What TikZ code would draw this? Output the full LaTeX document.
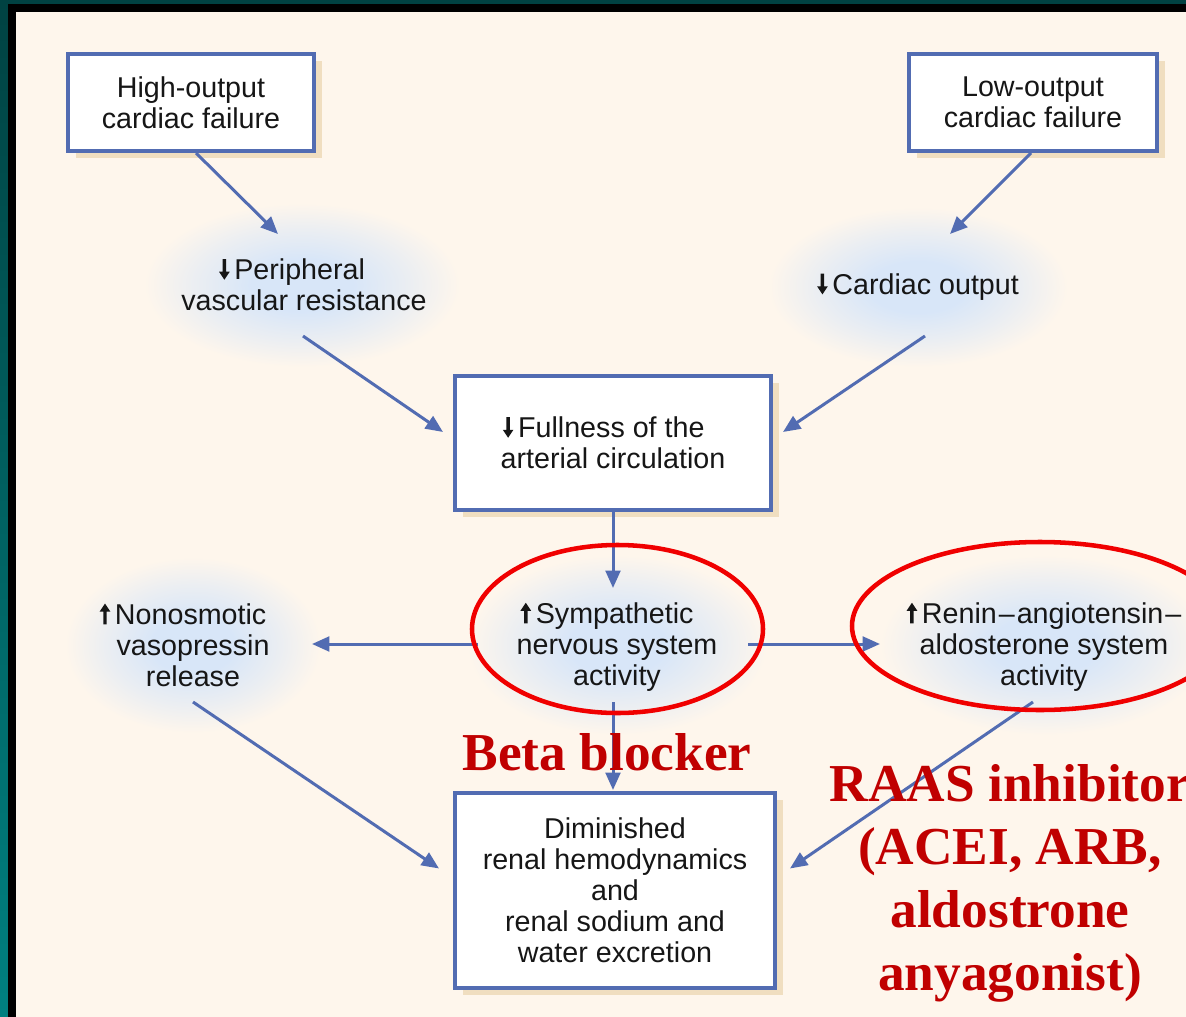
\documentclass[tikz,border=0pt]{standalone}
\usepackage{fontspec}
\setmainfont{Liberation Sans}
\newfontfamily\redfont{Liberation Serif}
\usetikzlibrary{arrows.meta,calc,shadows}

\definecolor{bgc}{RGB}{254,246,236}
\definecolor{tealdark}{RGB}{0,66,66}
\definecolor{teallight}{RGB}{0,128,128}
\definecolor{boxblue}{RGB}{82,108,178}
\definecolor{shadowc}{RGB}{240,222,192}
\definecolor{glowc}{RGB}{216,230,248}
\colorlet{glowmid}{glowc!50!bgc}
\definecolor{ringred}{RGB}{240,0,0}
\definecolor{textred}{RGB}{192,0,0}
\definecolor{ink}{RGB}{22,22,22}

\pgfdeclareradialshading{glowshade}{\pgfpoint{0bp}{0bp}}{color(0bp)=(glowc); color(8bp)=(glowc); color(17bp)=(glowmid); color(25bp)=(bgc); color(50bp)=(bgc)}

\newcommand\fs{\fontsize{21.5}{23.25}\selectfont}
\newcommand\dnar{\tikz[x=1pt,y=1pt,baseline=0pt]\fill[ink] (-1.3,15.5) -- (1.3,15.5) -- (1.3,6) -- (4,6) -- (0,0) -- (-4,6) -- (-1.3,6) -- cycle;\hspace{3.5pt}}
\newcommand\upar{\tikz[x=1pt,y=1pt,baseline=0pt]\fill[ink] (-1.3,0) -- (1.3,0) -- (1.3,9.5) -- (4,9.5) -- (0,15.5) -- (-4,9.5) -- (-1.3,9.5) -- cycle;\hspace{3.5pt}}

\tikzset{
  fbox/.style={draw=boxblue, line width=3pt, fill=white, inner sep=0pt, align=center,
    font=\fs, text=ink,
    drop shadow={shadow xshift=6pt, shadow yshift=-5.25pt, fill=shadowc, opacity=1}},
  gtext/.style={inner sep=0pt, align=center, font=\fs, text=ink},
  arr/.style={draw=boxblue, line width=2.25pt, -{Triangle[length=13pt, width=11pt]}},
  ring/.style={draw=ringred, line width=3.4pt},
  redtxt/.style={inner sep=0pt, align=center, text=textred, font=\redfont\bfseries\fontsize{40}{47.25}\selectfont},
  glow/.style={shading=glowshade}
}

\begin{document}
\begin{tikzpicture}[x=0.75pt,y=-0.75pt]
\useasboundingbox (0,0) rectangle (1186,1017);
% frame and background
\fill[bgc] (0,0) rectangle (1186,1017);
\fill[tealdark] (0,0) rectangle (1186,4);
\shade[top color=tealdark, bottom color=teallight] (0,0) rectangle (8,1017);
\fill[black] (8,4) rectangle (1186,12);
\fill[black] (8,4) rectangle (16,1017);

% glows
\shade[glow] (302,285) ellipse (158 and 82);
\shade[glow] (918,287) ellipse (150 and 80);
\shade[glow] (193,645) ellipse (128 and 88);
\shade[glow] (617,645) ellipse (150 and 90);
\shade[glow] (1045,645) ellipse (165 and 90);

% boxes
\node[fbox, minimum width=184.5pt, minimum height=72.75pt] (hi) at (191,102.5) {High-output\\cardiac failure};
\node[fbox, minimum width=186pt, minimum height=72.75pt] (lo) at (1033,102.5) {Low-output\\cardiac failure};
\node[fbox, minimum width=237pt, minimum height=100.5pt] (full) at (613,443) {\dnar Fullness of the\hspace*{14pt}\\arterial circulation};
\node[fbox, minimum width=240pt, minimum height=146.25pt] (dim) at (615,890.5) {Diminished\\renal hemodynamics\\and\\renal sodium and\\water excretion};

% glow texts
\node[gtext] (pvr) at (304,285) {\dnar Peripheral\hspace*{18pt}\\vascular resistance};
\node[gtext] (co) at (918,287) {\dnar Cardiac output};
\node[gtext] (nono) at (193,645) {\upar Nonosmotic\hspace*{15pt}\\vasopressin\\release};
\node[gtext] (sym) at (617,647) {\upar Sympathetic\hspace*{15pt}\\nervous system\\activity};
\node[gtext] (raas) at (1044,647) {\upar Renin\kern1.5pt–\kern1.5pt angiotensin\kern1.5pt–\\aldosterone system\\activity};

% connectors
\draw[arr] ($(hi.south)+(5,0)$) -- ($(pvr)+(-26,-51)$);
\draw[arr] ($(lo.south)+(-2,0)$) -- ($(co)+(32,-53)$);
\draw[arr] ($(pvr)+(-1,51)$) -- ($(full.west)+(-10,-11)$);
\draw[arr] ($(co)+(7,49)$) -- ($(full.east)+(10,-11)$);
\draw[arr] (full.south) -- ($(sym)+(-4,-59)$);
\draw[arr] ($(sym)+(-139,-3)$) -- ($(nono)+(119,-1)$);
\draw[arr] ($(sym)+(131,-3)$) -- ($(raas)+(-164,-3)$);
\draw[arr] ($(sym)+(-4,55)$) -- ($(dim.north)+(-2,-1)$);
\draw[arr] ($(nono)+(0,57)$) -- ($(dim.west)+(-14,-22)$);
\draw[arr] ($(raas)+(-11,55)$) -- ($(dim.east)+(13,-22)$);

% red annotations
\draw[ring] (617.5,629) ellipse (145.5 and 84);
\draw[ring] (1040,626) ellipse (188 and 84);
\node[redtxt, anchor=base] (beta) at (607,770) {Beta blocker};
\node[redtxt] (raasinh) at (1010,883) {RAAS inhibitor\\(ACEI, ARB,\\aldostrone\\anyagonist)};
\end{tikzpicture}
\end{document}
